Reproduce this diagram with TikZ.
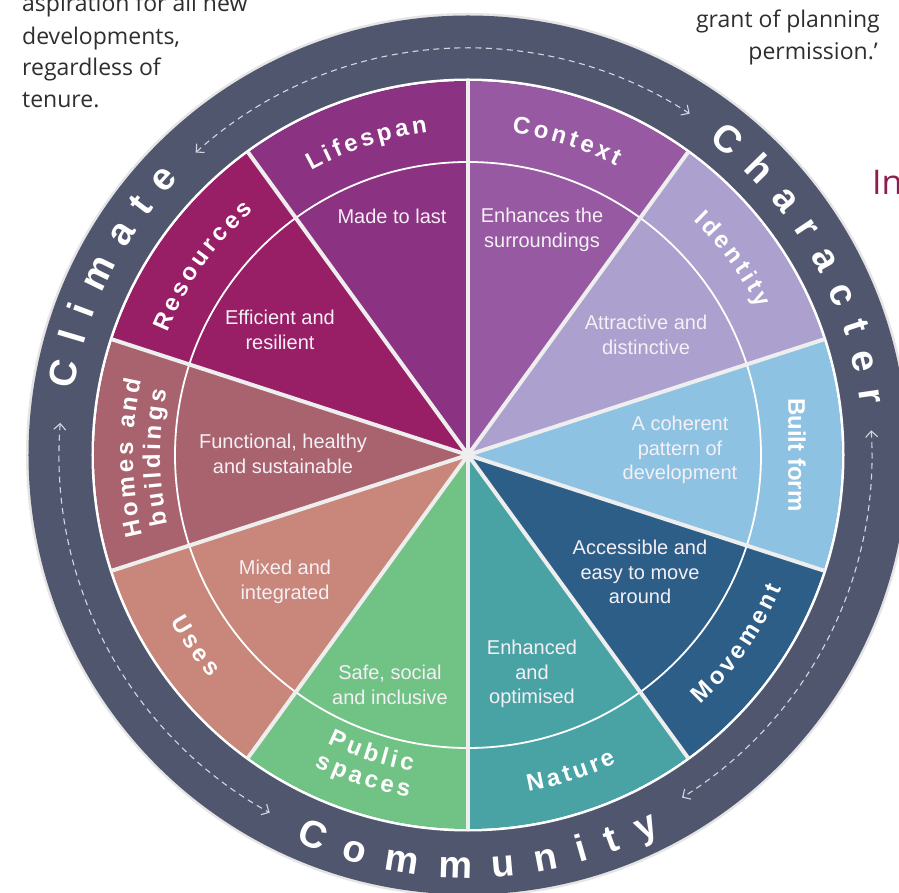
\documentclass[tikz,border=0pt]{standalone}
\usepackage{fontspec}
\setmainfont{Liberation Sans}
\newfontfamily\bodyfont{Open Sans}
\usetikzlibrary{arrows.meta}

\definecolor{ringc}{HTML}{51566F}
\definecolor{sepc}{HTML}{EEEEEE}
\definecolor{dashc}{HTML}{D4D6E0}
\definecolor{innerc}{HTML}{F5F0F5}
\definecolor{bodyc}{HTML}{2E2E2E}
\definecolor{inc}{HTML}{8C1D4E}
\definecolor{cLife}{HTML}{8C3282}
\definecolor{cContext}{HTML}{9759A1}
\definecolor{cIdent}{HTML}{ABA0CE}
\definecolor{cBuilt}{HTML}{8EC2E2}
\definecolor{cMove}{HTML}{2D5E88}
\definecolor{cNature}{HTML}{49A3A5}
\definecolor{cPublic}{HTML}{71C285}
\definecolor{cUses}{HTML}{C9867A}
\definecolor{cHomes}{HTML}{A8636F}
\definecolor{cRes}{HTML}{981E66}

\newcommand\ringfont{\bfseries\fontsize{38}{40}\selectfont}
\newcommand\labfont{\bfseries\fontsize{24}{26}\selectfont}

\newbox\arcbox
\makeatletter
% measure letter widths (outside the picture, where fonts are active)
% #1 name, #2 font, #3 letters
\newcommand{\arcmeasure}[3]{%
  \foreach \ch [count=\ci] in {#3}{%
    \setbox\arcbox=\hbox{#2\ch}%
    \dimen@=\wd\arcbox
    \expandafter\xdef\csname arcw@#1@\ci\endcsname{\strip@pt\dimen@}%
  }%
}
% #1 name, #2 font, #3 gap (pt), #4 baseline radius (pt), #5 centre angle, #6 direction (-1 cw, 1 ccw), #7 letters
\newcommand{\arctext}[7]{%
  \xdef\arcTot{0}%
  \foreach \ch [count=\ci] in {#7}{%
    \edef\arcW{\csname arcw@#1@\ci\endcsname}%
    \pgfmathsetmacro\arcT{\arcTot+\arcW+#3}%
    \xdef\arcTot{\arcT}%
  }%
  \pgfmathsetmacro\arcTotal{\arcTot-#3}%
  \xdef\arcPos{0}%
  \foreach \ch [count=\ci] in {#7}{%
    \edef\arcW{\csname arcw@#1@\ci\endcsname}%
    \pgfmathsetmacro\arcMid{\arcPos+0.5*\arcW}%
    \pgfmathsetmacro\arcAng{#5+(#6)*(\arcMid-0.5*\arcTotal)/(#4)*180/pi}%
    \pgfmathsetmacro\arcRot{\arcAng+(#6)*90}%
    \node[arcletter, rotate=\arcRot] (#1\ci) at (\arcAng:#4pt) {#2\ch};%
    \pgfmathsetmacro\arcT{\arcPos+\arcW+#3}%
    \xdef\arcPos{\arcT}%
  }%
}
\makeatother

\begin{document}
\arcmeasure{climate}{\ringfont}{C,l,i,m,a,t,e}%
\arcmeasure{character}{\ringfont}{C,h,a,r,a,c,t,e,r}%
\arcmeasure{community}{\ringfont}{C,o,m,m,u,n,i,t,y}%
\arcmeasure{lifespan}{\labfont}{L,i,f,e,s,p,a,n}%
\arcmeasure{context}{\labfont}{C,o,n,t,e,x,t}%
\arcmeasure{identity}{\labfont}{I,d,e,n,t,i,t,y}%
\arcmeasure{movement}{\labfont}{M,o,v,e,m,e,n,t}%
\arcmeasure{nature}{\labfont}{N,a,t,u,r,e}%
\arcmeasure{public}{\labfont}{P,u,b,l,i,c}%
\arcmeasure{spaces}{\labfont}{s,p,a,c,e,s}%
\arcmeasure{uses}{\labfont}{U,s,e,s}%
\arcmeasure{homes}{\labfont}{H,o,m,e,s,~,a,n,d}%
\arcmeasure{buildings}{\labfont}{b,u,i,l,d,i,n,g,s}%
\arcmeasure{resources}{\labfont}{R,e,s,o,u,r,c,e,s}%
\begin{tikzpicture}[x=1pt,y=1pt,
  arcletter/.style={inner sep=0pt, anchor=base, text=white},
  innertxt/.style={text=innerc, font=\fontsize{20}{24.5}\selectfont, align=center, inner sep=0pt},
  bodytxt/.style={text=bodyc, font=\bodyfont\fontsize{23}{32}\selectfont, inner sep=0pt},
  sepline/.style={draw=sepc, line width=4pt},
  dasharc/.style={draw=dashc, line width=1.1pt, dash pattern=on 6pt off 4.5pt,
    arrows={Straight Barb[length=6pt,width=12pt,line width=1.1pt]-Straight Barb[length=6pt,width=12pt,line width=1.1pt]}}
]
\useasboundingbox (-468,-438) rectangle (431,455);
\clip (-468,-438) rectangle (431,455);
\fill[white] (-468,-438) rectangle (431,455);

% outer ring
\fill[black!10] (0,0) circle[radius=442pt];
\fill[ringc] (0,0) circle[radius=439.5pt];
\fill[white] (0,0) circle[radius=376.5pt];

% wedges
\foreach \a/\c in {108/cLife, 72/cContext, 36/cIdent, 0/cBuilt, -36/cMove, -72/cNature, -108/cPublic, -144/cUses, 180/cHomes, 144/cRes}{
  \pgfmathsetmacro\sa{\a+18}
  \pgfmathsetmacro\ea{\a-18}
  \fill[\c] (0,0) -- (\sa:374pt) arc[start angle=\sa, end angle=\ea, radius=374pt] -- cycle;
}
\draw[white, line width=1.8pt] (0,0) circle[radius=293pt];
\draw[white, line width=1.5pt] (0,0) circle[radius=375pt];
\foreach \k in {0,...,9}{
  \draw[sepline] (0,0) -- ({90+36*\k}:375pt);
}
\fill[sepc] (0,0) circle[radius=5pt];

% dashed arcs
\coordinate (tA) at (132:407pt);
\coordinate (rA) at (3.5:404pt);
\coordinate (lA) at (175.5:409pt);
\draw[dasharc] (tA) arc[start angle=132, end angle=57, radius=407pt];
\draw[dasharc] (rA) arc[start angle=3.5, end angle=-58, radius=404pt];
\draw[dasharc] (lA) arc[start angle=175.5, end angle=241, radius=409pt];

% ring labels
\arctext{climate}{\ringfont}{17}{400}{153.4}{-1}{C,l,i,m,a,t,e}
\arctext{character}{\ringfont}{17}{396}{29.9}{-1}{C,h,a,r,a,c,t,e,r}
\arctext{community}{\ringfont}{21}{423}{-88.5}{1}{C,o,m,m,u,n,i,t,y}

% wedge labels
\arctext{lifespan}{\labfont}{3.5}{325}{108}{-1}{L,i,f,e,s,p,a,n}
\arctext{context}{\labfont}{3.5}{325}{72.5}{-1}{C,o,n,t,e,x,t}
\arctext{identity}{\labfont}{3.5}{325}{36.5}{-1}{I,d,e,n,t,i,t,y}
\node[arcletter, anchor=center, rotate=-90, font=\bfseries\fontsize{24}{26}\selectfont] (builtform) at (329,0) {Built form};
\arctext{movement}{\labfont}{3.5}{341}{-35}{1}{M,o,v,e,m,e,n,t}
\arctext{nature}{\labfont}{3.5}{342}{-72}{1}{N,a,t,u,r,e}
\arctext{public}{\labfont}{3.5}{321}{-108}{1}{P,u,b,l,i,c}
\arctext{spaces}{\labfont}{3.5}{347}{-108}{1}{s,p,a,c,e,s}
\arctext{uses}{\labfont}{4}{341}{-145}{1}{U,s,e,s}
\arctext{homes}{\labfont}{3.5}{335}{180.5}{-1}{H,o,m,e,s,~,a,n,d}
\arctext{buildings}{\labfont}{3.5}{308}{180.5}{-1}{b,u,i,l,d,i,n,g,s}
\arctext{resources}{\labfont}{3.5}{325}{144.5}{-1}{R,e,s,o,u,r,c,e,s}

% inner texts
\node[innertxt] (tLife) at (-76,239) {Made to last};
\node[innertxt] (tContext) at (74,225) {Enhances the\\surroundings};
\node[innertxt] (tIdent) at (178,120) {Attractive and\\distinctive};
\node[innertxt] (tBuilt) at (212,5) {A coherent\\pattern of\\development};
\node[innertxt] (tMove) at (172,-117) {Accessible and\\easy to move\\around};
\node[innertxt] (tNature) at (64,-219) {Enhanced\\and\\optimised};
\node[innertxt] (tPublic) at (-78,-230) {Safe, social\\and inclusive};
\node[innertxt] (tUses) at (-183,-127) {Mixed and\\integrated};
\node[innertxt] (tHomes) at (-185,1) {Functional, healthy\\and sustainable};
\node[innertxt] (tRes) at (-188,125) {Efficient and\\resilient};

% surrounding page text
\node[bodytxt, anchor=base west] (tl1) at (-446,443) {aspiration for all new};
\node[bodytxt, anchor=base west] (tl2) at (-446,410) {developments,};
\node[bodytxt, anchor=base west] (tl3) at (-446,379) {regardless of};
\node[bodytxt, anchor=base west] (tl4) at (-446,347) {tenure.};
\node[bodytxt, anchor=base east] (tr1) at (412,427) {grant of planning};
\node[bodytxt, anchor=base east] (tr2) at (410,395) {permission.’};
\node[anchor=base west, inner sep=0pt, text=inc, font=\bodyfont\fontsize{34}{36}\selectfont] (intro) at (404,260) {In};
\end{tikzpicture}
\end{document}
